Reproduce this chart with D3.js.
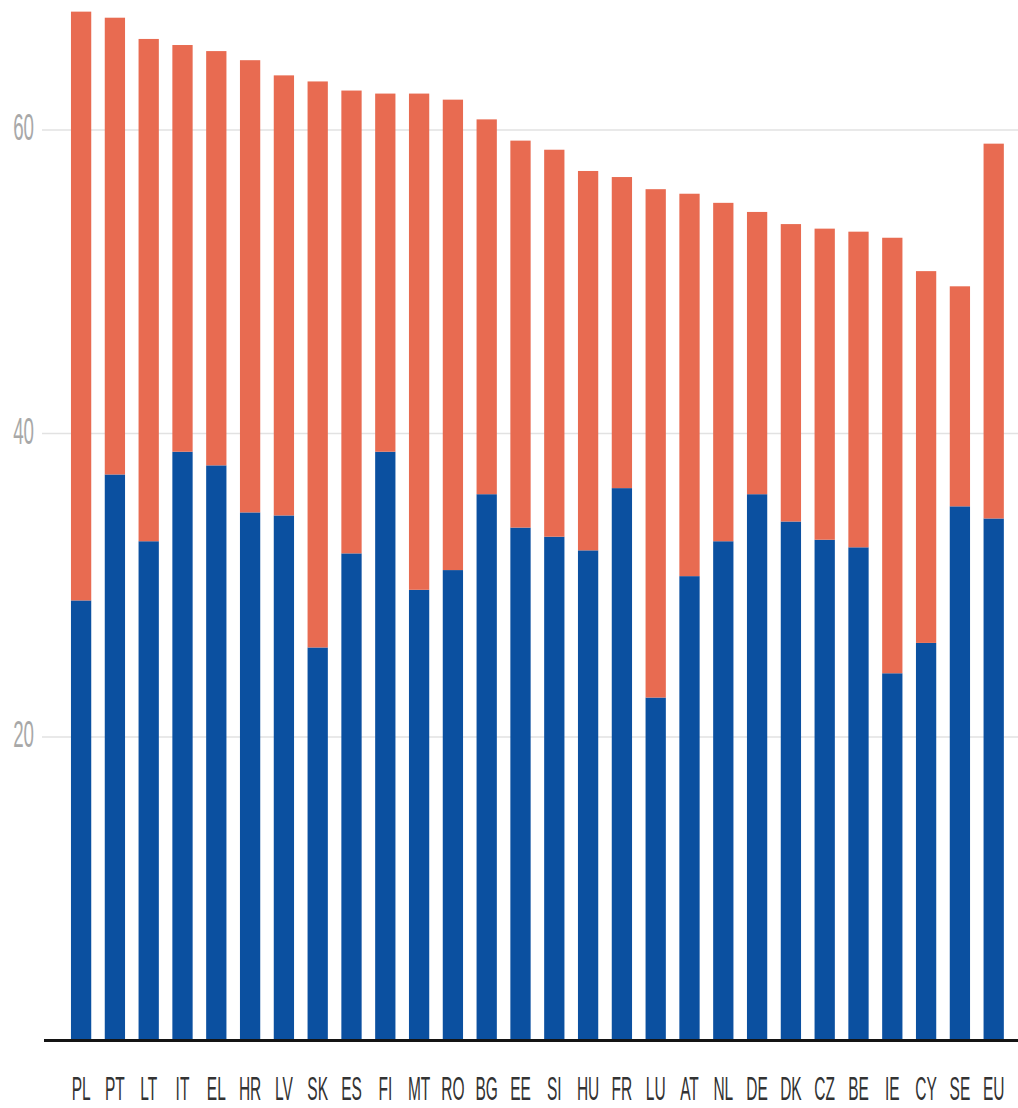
<!DOCTYPE html>
<html>
<head>
<meta charset="utf-8">
<script src="https://cdn.jsdelivr.net/npm/d3@7"></script>
<style>
  html, body { margin: 0; padding: 0; background: #fff; }
  svg { display: block; }
</style>
</head>
<body>
<svg id="chart" width="1018" height="1108"></svg>
<script>
const categories = ["PL","PT","LT","IT","EL","HR","LV","SK","ES","FI","MT","RO","BG","EE","SI","HU","FR","LU","AT","NL","DE","DK","CZ","BE","IE","CY","SE","EU"];
const lowerValues = [29.0,37.3,32.9,38.8,37.9,34.8,34.6,25.9,32.1,38.8,29.7,31.0,36.0,33.8,33.2,32.3,36.4,22.6,30.6,32.9,36.0,34.2,33.0,32.5,24.2,26.2,35.2,34.4];
const upperValues = [38.8,30.1,33.1,26.8,27.3,29.8,29.0,37.3,30.5,23.6,32.7,31.0,24.7,25.5,25.5,25.0,20.5,33.5,25.2,22.3,18.6,19.6,20.5,20.8,28.7,24.5,14.5,24.7];
const yTicks = [20, 40, 60];
const seriesKeys = ["lower", "upper"];
const seriesColors = ["#0b50a0", "#e86b51"];

const svg = d3.select("#chart");

const rows = categories.map((c, i) => ({ cat: c, lower: lowerValues[i], upper: upperValues[i] }));

const x = d3.scaleBand()
  .domain(categories)
  .range([64.2, 1010.6])
  .paddingInner(0.4)
  .paddingOuter(0.2);

const y = d3.scaleLinear()
  .domain([0, 60])
  .range([1040.5, 130]);

// gridlines
svg.append("g")
  .selectAll("line")
  .data(yTicks)
  .join("line")
  .attr("x1", 42)
  .attr("x2", 1018)
  .attr("y1", d => y(d))
  .attr("y2", d => y(d))
  .attr("stroke", "#e2e2e2")
  .attr("stroke-width", 1.5);

// y labels
svg.append("g")
  .selectAll("text")
  .data(yTicks)
  .join("text")
  .attr("transform", d => `translate(34, ${y(d) + 10}) scale(0.52, 1)`)
  .attr("text-anchor", "end")
  .attr("font-family", "Liberation Sans, Arial, sans-serif")
  .attr("font-size", 36)
  .attr("fill", "#a8a8a8")
  .text(d => d);

// stacked bars
const stack = d3.stack().keys(seriesKeys);
const stacked = stack(rows);

svg.append("g")
  .selectAll("g")
  .data(stacked)
  .join("g")
  .attr("fill", (d, i) => seriesColors[i])
  .selectAll("rect")
  .data(d => d)
  .join("rect")
  .attr("x", d => x(d.data.cat))
  .attr("width", x.bandwidth())
  .attr("y", d => y(d[1]))
  .attr("height", d => y(d[0]) - y(d[1]));

// baseline
svg.append("line")
  .attr("x1", 44)
  .attr("x2", 1018)
  .attr("y1", y(0))
  .attr("y2", y(0))
  .attr("stroke", "#141414")
  .attr("stroke-width", 3);

// x labels
svg.append("g")
  .selectAll("text")
  .data(categories)
  .join("text")
  .attr("transform", d => `translate(${x(d) + x.bandwidth() / 2}, 1100) scale(0.47, 1)`)
  .attr("text-anchor", "middle")
  .attr("font-family", "Liberation Sans, Arial, sans-serif")
  .attr("font-size", 33)
  .attr("fill", "#333")
  .text(d => d);
</script>
</body>
</html>
